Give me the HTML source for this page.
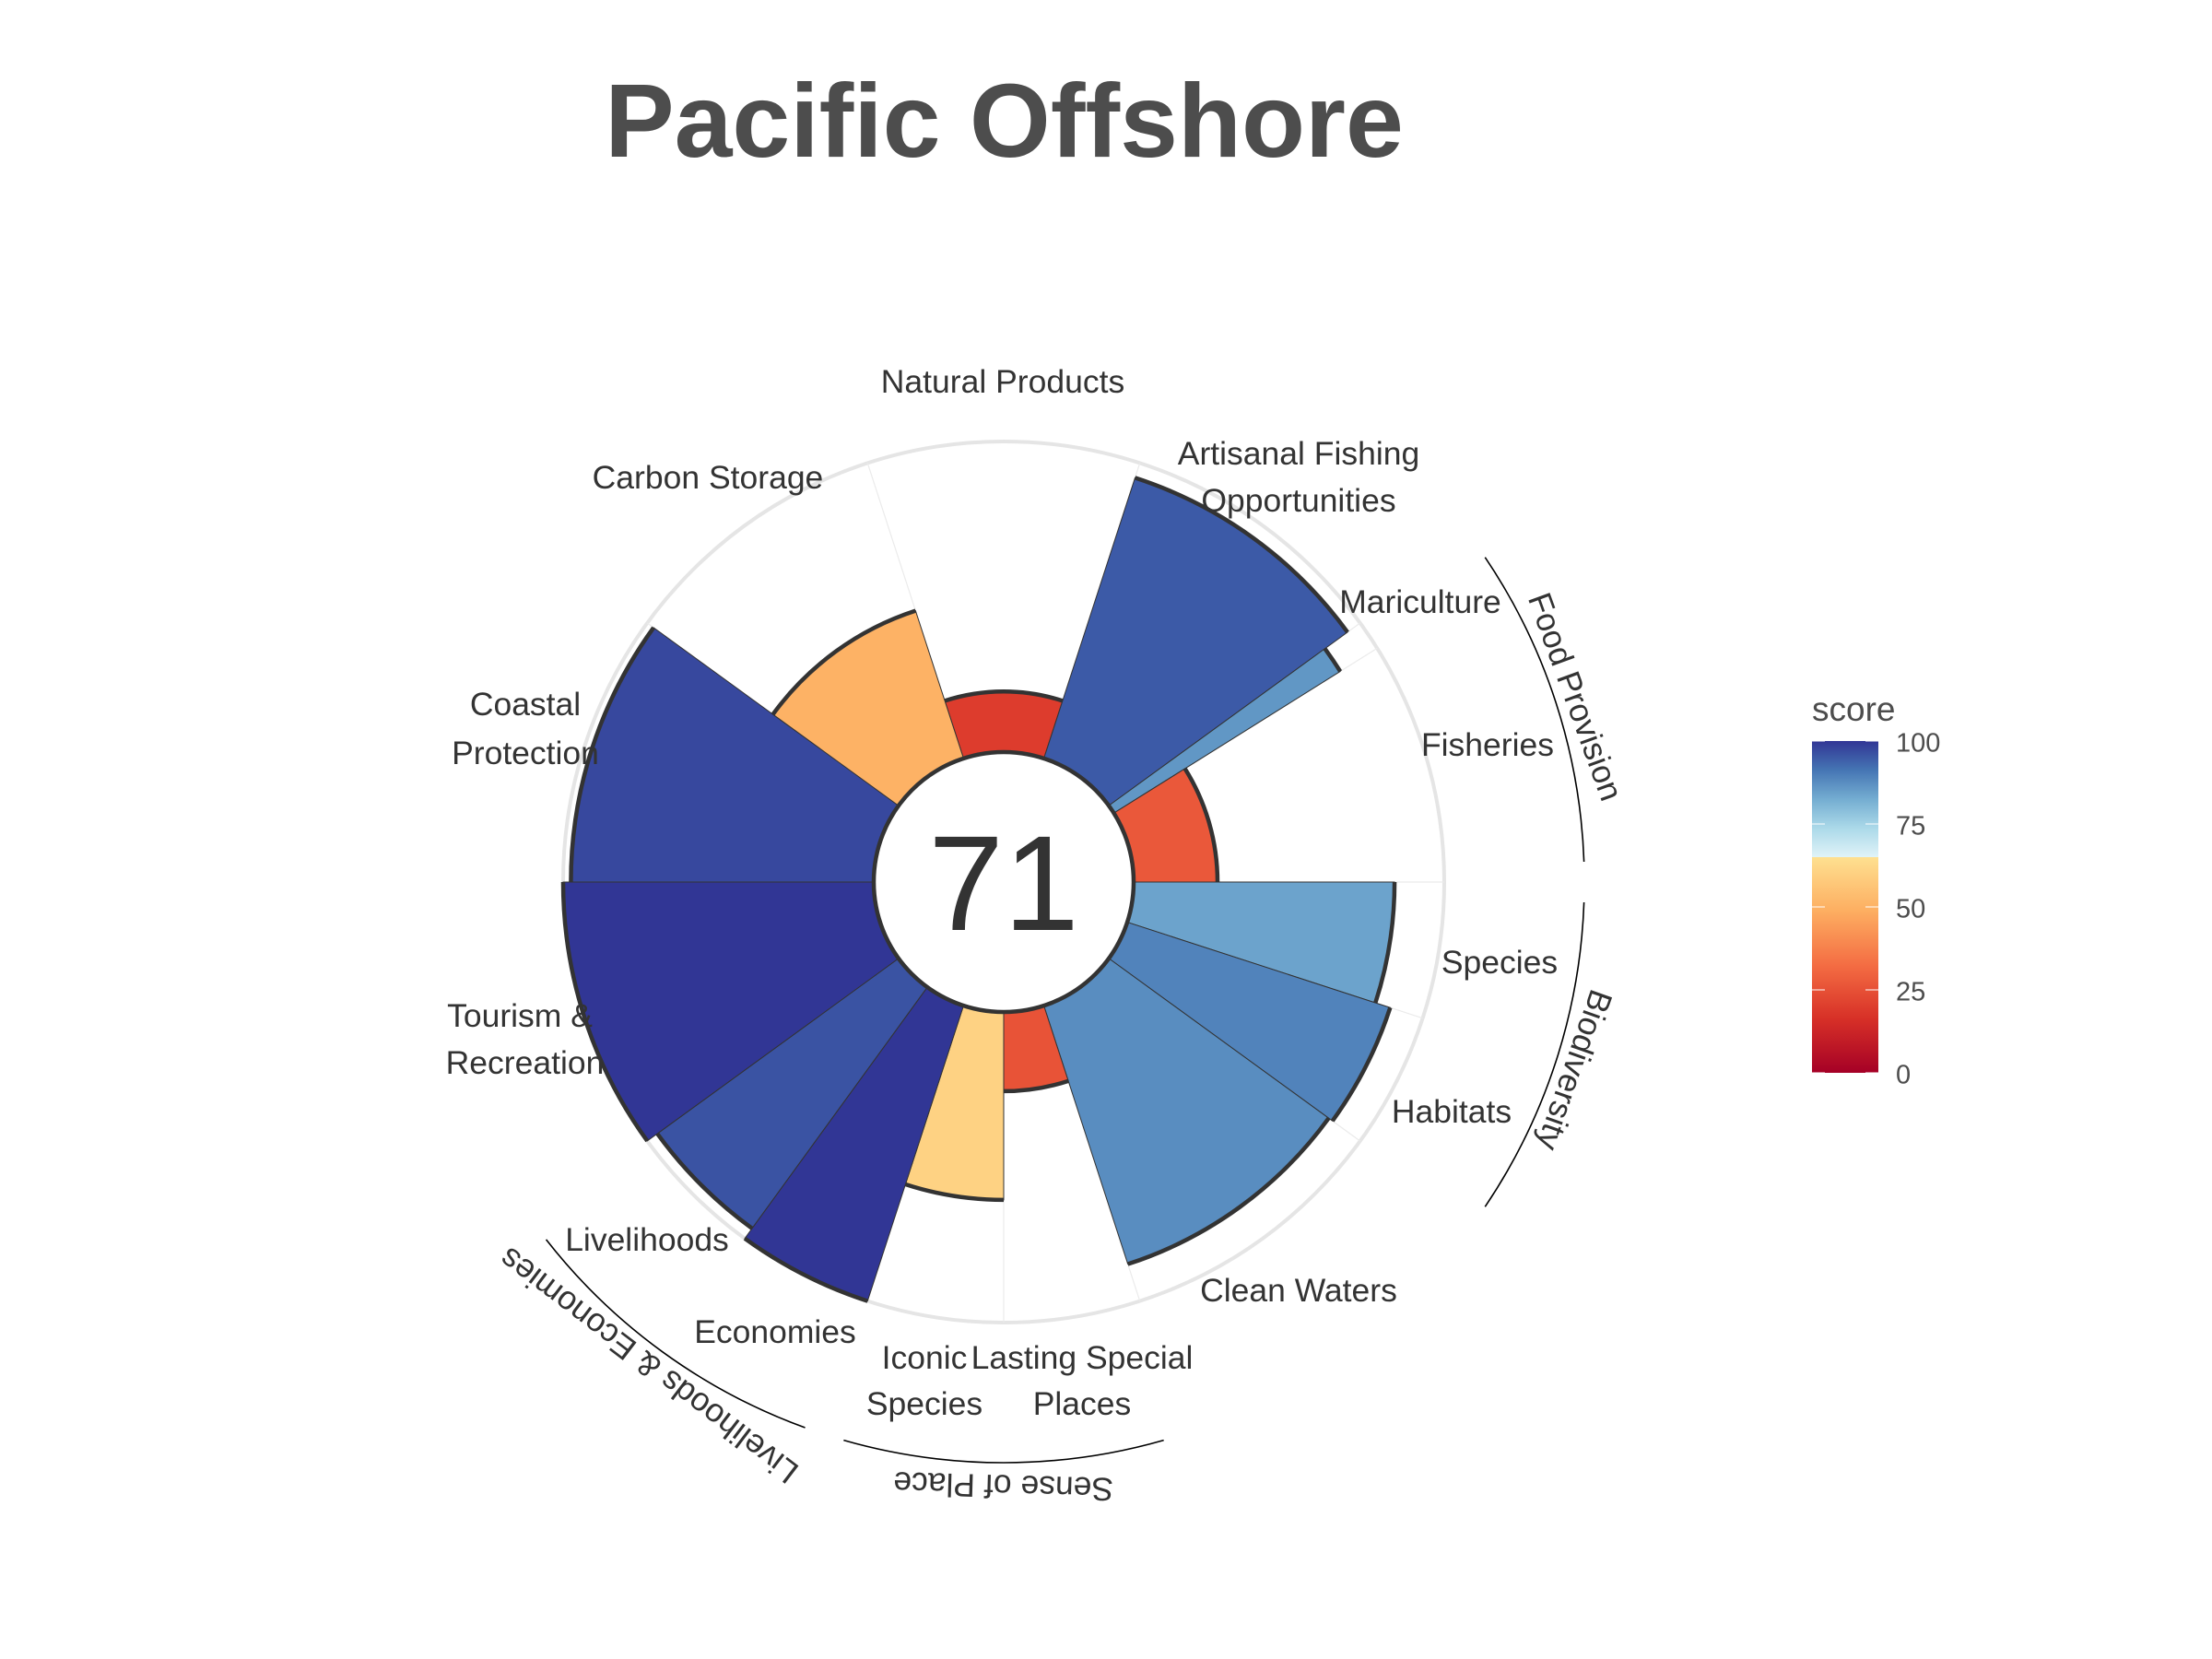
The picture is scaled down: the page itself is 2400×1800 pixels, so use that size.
<!DOCTYPE html>
<html lang="en">
<head>
<meta charset="utf-8">
<title>Pacific Offshore</title>
<style>
html,body{margin:0;padding:0;background:#fff;}
svg{display:block;font-family:"Liberation Sans",Arial,sans-serif;}
.lab{font-size:35.5px;fill:#333;text-anchor:middle;}
.sup{font-size:35.5px;fill:#333;text-anchor:middle;}
</style>
</head>
<body>
<svg id="chart" width="2400" height="1800" viewBox="0 0 2400 1800" xmlns="http://www.w3.org/2000/svg">
  <defs id="defs"></defs>
  <rect x="0" y="0" width="2400" height="1800" fill="#fff"/>
  <text x="1089.5" y="170" font-size="113" font-weight="700" fill="#4d4d4d" text-anchor="middle">Pacific Offshore</text>
  <g id="grid"></g>
  <g id="wedges"></g>
  <g id="arcs"></g>
  <g id="center"></g>
  <text x="1089" y="1009" font-size="147" fill="#333" text-anchor="middle">71</text>

  <g>
    <text class="lab" x="1088" y="426">Natural Products</text>
    <text class="lab" x="1409" y="504">Artisanal Fishing</text>
    <text class="lab" x="1409" y="555">Opportunities</text>
    <text class="lab" x="1541" y="665">Mariculture</text>
    <text class="lab" x="1614" y="820">Fisheries</text>
    <text class="lab" x="1627" y="1056">Species</text>
    <text class="lab" x="1575" y="1218">Habitats</text>
    <text class="lab" x="1409" y="1412">Clean Waters</text>
    <text class="lab" x="1174" y="1485">Lasting Special</text>
    <text class="lab" x="1174" y="1535">Places</text>
    <text class="lab" x="1003" y="1485">Iconic</text>
    <text class="lab" x="1003" y="1535">Species</text>
    <text class="lab" x="841" y="1457">Economies</text>
    <text class="lab" x="702" y="1357">Livelihoods</text>
    <text class="lab" x="564" y="1114">Tourism &amp;</text>
    <text class="lab" x="569.5" y="1165">Recreation</text>
    <text class="lab" x="570" y="776">Coastal</text>
    <text class="lab" x="570" y="829">Protection</text>
    <text class="lab" x="768" y="530">Carbon Storage</text>
  </g>

  <g id="supra">
    <text class="sup" transform="translate(1698 760) rotate(70)">Food Provision</text>
    <text class="sup" transform="translate(1697 1157) rotate(109.3)">Biodiversity</text>
    <text class="sup" transform="translate(1089 1600.5) rotate(181.6)">Sense of Place</text>
    <text class="sup" transform="translate(711 1472) rotate(217.3)">Livelihoods &amp; Economies</text>
  </g>

  <g id="legend">
    <text x="1966" y="782" font-size="37" fill="#4d4d4d">score</text>
  </g>
</svg>
<script>
// Chart data
const goals = ["Natural Products","Artisanal Fishing Opportunities","Mariculture","Fisheries","Species","Habitats","Clean Waters","Lasting Special Places","Iconic Species","Economies","Livelihoods","Tourism & Recreation","Coastal Protection","Carbon Storage"];
const scores = [19.5,95,86,27,84,89,87.5,25.5,60.5,100,96,100,97.5,50];
const weights = [2,2,0.22,1.78,1,1,2,1,1,1,1,2,2,2];
const supraGoals = ["Food Provision","Biodiversity","Sense of Place","Livelihoods & Economies"];
const supraSpans = [[2,3],[4,5],[7,8],[9,10]];
const legendTicks = [0,25,50,75,100];
const paletteLow = ["#a50026","#d73027","#f46d43","#fdae61","#fee090"];
const paletteHigh = ["#e0f3f8","#abd9e9","#74add1","#4575b4","#313695"];
const paletteBreak = 65;

// Scales
const NS = "http://www.w3.org/2000/svg";
const cx = 1089, cy = 957, innerR = 141, outerR = 478;
const totalWeight = weights.reduce((a,b)=>a+b,0);
const firstAngle = -weights[0]/totalWeight*180;
function rScale(s){ return innerR + (outerR-innerR)*s/100; }
function aScale(w){ return firstAngle + w/totalWeight*360; }
function pt(a,r){ const t=a*Math.PI/180; return [cx+r*Math.sin(t), cy-r*Math.cos(t)]; }
function f(n){ return n.toFixed(2); }
function arcD(a0,a1,r){
  const p0=pt(a0,r), p1=pt(a1,r), large=(a1-a0)>180?1:0;
  return "M"+f(p0[0])+" "+f(p0[1])+"A"+r+" "+r+" 0 "+large+" 1 "+f(p1[0])+" "+f(p1[1]);
}
function hexRgb(h){ return [1,3,5].map(i=>parseInt(h.substr(i,2),16)); }
function color(s){
  const pal = s<paletteBreak ? paletteLow : paletteHigh;
  const lo = s<paletteBreak ? 0 : paletteBreak, hi = s<paletteBreak ? paletteBreak : 100;
  const t = (s-lo)/(hi-lo)*(pal.length-1), i = Math.min(Math.floor(t),pal.length-2), u = t-i;
  const a = hexRgb(pal[i]), b = hexRgb(pal[i+1]);
  return "rgb("+a.map((v,k)=>Math.round(v+(b[k]-v)*u)).join(",")+")";
}
function mk(tag,attrs,parent){
  const el=document.createElementNS(NS,tag);
  for(const k in attrs) el.setAttribute(k,attrs[k]);
  parent.appendChild(el);
  return el;
}
function slug(s){ return s.toLowerCase().replace(/[^a-z]+/g,"-"); }

const gridG=document.getElementById("grid"), wedgeG=document.getElementById("wedges"), arcG=document.getElementById("arcs");
const centerG=document.getElementById("center"), supraG=document.getElementById("supra"), legendG=document.getElementById("legend"), defs=document.getElementById("defs");

// Cumulative weight at the start of each petal
const starts=[]; weights.reduce((acc,w,i)=>{ starts[i]=acc; return acc+w; },0);

// Grid
const ring=mk("circle",{cx:cx,cy:cy,r:outerR,fill:"none",stroke:"#e5e5e5","stroke-width":4},gridG);


goals.forEach((g,i)=>{
  const a=aScale(starts[i]), p0=pt(a,innerR), p1=pt(a,outerR);
  const sp=mk("line",{x1:f(p0[0]),y1:f(p0[1]),x2:f(p1[0]),y2:f(p1[1]),stroke:"#ebebeb","stroke-width":1.2},gridG);
  
  
});

// Petals
goals.forEach((g,i)=>{
  const a0=aScale(starts[i]), a1=aScale(starts[i]+weights[i]), r=rScale(scores[i]);
  const i0=pt(a0,innerR), o0=pt(a0,r), o1=pt(a1,r), i1=pt(a1,innerR);
  const d="M"+f(i0[0])+" "+f(i0[1])+"L"+f(o0[0])+" "+f(o0[1])+"A"+f(r)+" "+f(r)+" 0 0 1 "+f(o1[0])+" "+f(o1[1])+"L"+f(i1[0])+" "+f(i1[1])+"A"+innerR+" "+innerR+" 0 0 0 "+f(i0[0])+" "+f(i0[1])+"Z";
  const w=mk("path",{d:d,fill:color(scores[i]),stroke:"#333","stroke-width":1},wedgeG);
  
  
  const arc=mk("path",{d:arcD(a0,a1,r),fill:"none",stroke:"#333","stroke-width":4.5},arcG);
  
  
});

// Center disc
const disc=mk("circle",{cx:cx,cy:cy,r:innerR,fill:"#fff",stroke:"#333","stroke-width":4.5},centerG);



// Supra-goal arcs
supraGoals.forEach((s,i)=>{
  const span=supraSpans[i];
  const a0=aScale(starts[span[0]]), a1=aScale(starts[span[1]]+weights[span[1]]);
  const line=mk("path",{d:arcD(a0+2,a1-2,630),fill:"none",stroke:"#000","stroke-width":1.6},supraG);
  
  
});

// Legend
const grad=mk("linearGradient",{id:"scoreGrad",x1:0,y1:1,x2:0,y2:0},defs);
paletteLow.forEach((c,i)=>mk("stop",{offset:(i/(paletteLow.length-1)*paletteBreak)+"%","stop-color":c},grad));
paletteHigh.forEach((c,i)=>mk("stop",{offset:(paletteBreak+i/(paletteHigh.length-1)*(100-paletteBreak))+"%","stop-color":c},grad));
const barX=1966, barW=72, barTop=804, barH=360;
function legendY(v){ return barTop+barH*(1-v/100); }
const bar=mk("rect",{x:barX,y:barTop,width:barW,height:barH,fill:"url(#scoreGrad)"},legendG);


legendTicks.forEach(v=>{
  const y=legendY(v);
  const t1=mk("line",{x1:barX,x2:barX+14,y1:y,y2:y,stroke:"#fff","stroke-width":1},legendG);
  
  
  const t2=mk("line",{x1:barX+barW-14,x2:barX+barW,y1:y,y2:y,stroke:"#fff","stroke-width":1},legendG);
  
  
  const lab=mk("text",{x:2057,y:y+11.5,"font-size":29,fill:"#4d4d4d"},legendG);
  
  
  lab.textContent=String(v);
});
</script>
</body>
</html>
